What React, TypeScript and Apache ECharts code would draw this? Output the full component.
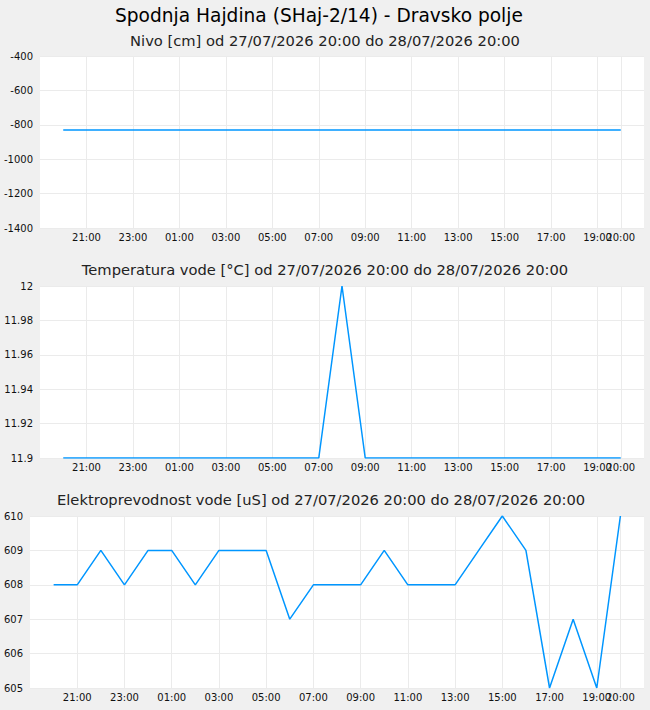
import React, { useEffect, useRef } from "react";
import * as echarts from "echarts";

const mainTitle = "Spodnja Hajdina (SHaj-2/14) - Dravsko polje";
const subTitles = [
  "Nivo [cm] od 27/07/2026 20:00 do 28/07/2026 20:00",
  "Temperatura vode [°C] od 27/07/2026 20:00 do 28/07/2026 20:00",
  "Elektroprevodnost vode [uS] od 27/07/2026 20:00 do 28/07/2026 20:00",
];

// hourly measurement times
const times = [
  "2026-07-27 20:00", "2026-07-27 21:00", "2026-07-27 22:00", "2026-07-27 23:00",
  "2026-07-28 00:00", "2026-07-28 01:00", "2026-07-28 02:00", "2026-07-28 03:00",
  "2026-07-28 04:00", "2026-07-28 05:00", "2026-07-28 06:00", "2026-07-28 07:00",
  "2026-07-28 08:00", "2026-07-28 09:00", "2026-07-28 10:00", "2026-07-28 11:00",
  "2026-07-28 12:00", "2026-07-28 13:00", "2026-07-28 14:00", "2026-07-28 15:00",
  "2026-07-28 16:00", "2026-07-28 17:00", "2026-07-28 18:00", "2026-07-28 19:00",
  "2026-07-28 20:00",
];

const nivo = [
  -830, -830, -830, -830, -830, -830, -830, -830, -830, -830, -830, -830, -830,
  -830, -830, -830, -830, -830, -830, -830, -830, -830, -830, -830, -830,
];

const temperatura = [
  11.9, 11.9, 11.9, 11.9, 11.9, 11.9, 11.9, 11.9, 11.9, 11.9, 11.9, 11.9, 12.0,
  11.9, 11.9, 11.9, 11.9, 11.9, 11.9, 11.9, 11.9, 11.9, 11.9, 11.9, 11.9,
];

const prevodnost = [
  608, 608, 609, 608, 609, 609, 608, 609, 609, 609, 607, 608, 608,
  608, 609, 608, 608, 608, 609, 610, 609, 605, 607, 605, 610,
];

const yRanges = [
  { min: -1400, max: -400, interval: 200 },
  { min: 11.9, max: 12, interval: 0.02 },
  { min: 605, max: 610, interval: 1 },
];

const axisStart = "2026-07-27 19:00";
const axisEnd = "2026-07-28 21:00";
const lastLabel = "2026-07-28 20:00";

function toTs(s: string): number {
  const [d, t] = s.split(" ");
  const [y, m, dd] = d.split("-").map(Number);
  const [h, mi] = t.split(":").map(Number);
  return Date.UTC(y, m - 1, dd, h, mi);
}

function fmt(v: number): string {
  const dt = new Date(v);
  const h = String(dt.getUTCHours()).padStart(2, "0");
  const m = String(dt.getUTCMinutes()).padStart(2, "0");
  return `${h}:${m}`;
}

export default function App() {
  const ref = useRef<HTMLDivElement>(null);

  useEffect(() => {
    document.body.style.margin = "0";
    if (!ref.current) return;
    const chart = echarts.init(ref.current, null, { renderer: "svg" });
    const font = "DejaVu Sans";
    const H = 3600000;
    const xmin = toTs(axisStart);
    const xmax = toTs(axisEnd);
    const lastTs = toTs(lastLabel);
    const grids = [
      { left: 40, right: 6, top: 56, height: 172 },
      { left: 40, right: 6, top: 286, height: 172 },
      { left: 30, right: 6, top: 516, height: 172 },
    ];
    const seriesData = [nivo, temperatura, prevodnost];
    const titleTops = [28, 257, 487];
    const titleLefts: any[] = ["center", "center", 57];

    const xAxes: any[] = [];
    const yAxes: any[] = [];
    const series: any[] = [];
    grids.forEach((g, i) => {
      xAxes.push({
        type: "value",
        gridIndex: i,
        min: xmin,
        max: xmax,
        interval: 2 * H,
        axisLine: { show: false },
        axisTick: { show: false },
        axisLabel: {
          formatter: (v: number) => fmt(v),
          showMinLabel: false,
          showMaxLabel: false,
          fontFamily: font,
          fontSize: 10,
          color: "#111",
          margin: 4,
        },
        splitLine: { show: true, showMinLine: false, showMaxLine: false, lineStyle: { color: "#ebebeb", width: 1 } },
      });
      xAxes.push({
        type: "value",
        gridIndex: i,
        position: "bottom",
        min: xmin,
        max: xmax,
        interval: lastTs - xmin,
        axisLine: { show: false },
        axisTick: { show: false },
        axisLabel: {
          formatter: (v: number) => (v === lastTs ? fmt(v) : ""),
          showMinLabel: false,
          showMaxLabel: false,
          fontFamily: font,
          fontSize: 10,
          color: "#111",
          margin: 4,
        },
        splitLine: { show: true, showMinLine: false, showMaxLine: false, lineStyle: { color: "#ebebeb", width: 1 } },
      });
      yAxes.push({
        type: "value",
        gridIndex: i,
        min: yRanges[i].min,
        max: yRanges[i].max,
        interval: yRanges[i].interval,
        axisLine: { show: false },
        axisTick: { show: false },
        axisLabel: {
          fontFamily: font,
          fontSize: 10,
          color: "#111",
          margin: 7,
          formatter: (v: number) => String(Math.round(v * 1000) / 1000),
        },
        splitLine: { show: true, lineStyle: { color: "#ebebeb", width: 1 } },
      });
      series.push({
        type: "line",
        xAxisIndex: i * 2,
        yAxisIndex: i,
        data: times.map((t, k) => [toTs(t), seriesData[i][k]]),
        showSymbol: false,
        symbol: "none",
        lineStyle: { color: "#0096ff", width: 1.5 },
        itemStyle: { color: "#0096ff" },
      });
    });

    chart.setOption({
      animation: false,
      backgroundColor: "#f0f0f0",
      title: [
        {
          text: mainTitle,
          left: 110,
          top: 1,
          textStyle: { fontFamily: font, fontSize: 18.6, fontWeight: "normal", color: "#000" },
        },
        ...subTitles.map((s, i) => ({
          text: s,
          left: titleLefts[i],
          top: titleTops[i],
          padding: i === 2 ? [5, 0, 5, 0] : 5,
          textStyle: { fontFamily: font, fontSize: 14.7, fontWeight: "normal", color: "#222" },
        })),
      ],
      grid: grids.map((g) => ({ ...g, backgroundColor: "#fff", show: true, borderWidth: 0 })),
      xAxis: xAxes,
      yAxis: yAxes,
      series,
    });
    return () => chart.dispose();
  }, []);

  return <div ref={ref} style={{ width: 650, height: 710 }} />;
}
